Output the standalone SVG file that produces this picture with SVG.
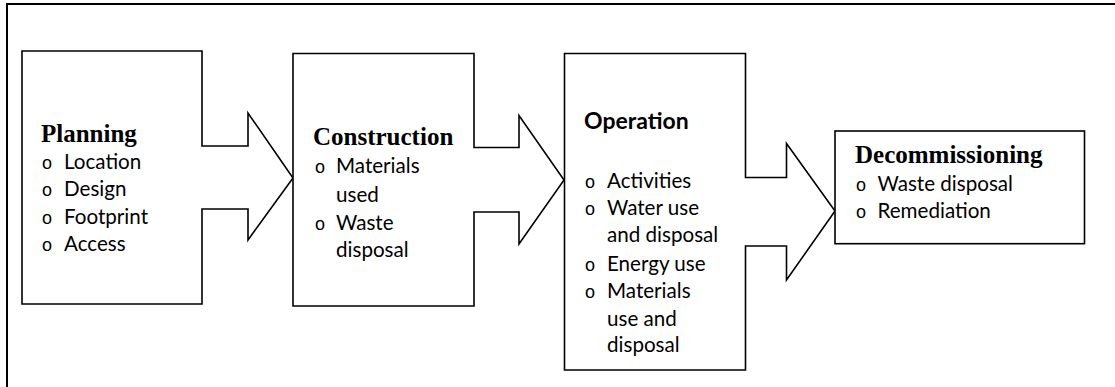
<svg xmlns="http://www.w3.org/2000/svg" width="1115" height="387" viewBox="0 0 1115 387">
<style>
.frame{fill:none;stroke:#000;stroke-width:2}
.shape{fill:#fff;stroke:#000;stroke-width:1.6;stroke-linejoin:miter}
.ttl{font-family:"Liberation Serif",serif;font-weight:bold;font-size:25px;fill:#000}
.ttls{font-family:Lato,"Liberation Sans",sans-serif;font-weight:bold;font-size:23px;fill:#000}
.txt{font-family:Lato,"Liberation Sans",sans-serif;font-size:20.6px;fill:#000}
.bul{font-family:"Liberation Sans",sans-serif;font-size:18px;fill:#000}
</style>
<rect class="frame" x="7" y="4" width="1130" height="420"/>
<g id="connectors"></g>
<g id="planning">
<polygon class="shape" points="22,51 202,51 202,146 248,146 248,113 293,178 248,240 248,209 202,209 202,304 22,304"/>
<text class="ttl" x="41" y="141.5">Planning</text>
<text class="bul" x="42" y="169">o</text><text class="txt" x="64" y="169.3">Location</text>
<text class="bul" x="42" y="196">o</text><text class="txt" x="64" y="196.3">Design</text>
<text class="bul" x="42" y="223.5">o</text><text class="txt" x="64" y="223.8">Footprint</text>
<text class="bul" x="42" y="250.5">o</text><text class="txt" x="64" y="250.8">Access</text>
</g>
<g id="construction">
<polygon class="shape" points="293,53.5 474,53.5 474,147.5 519,147.5 519,115.5 564,180 519,244 519,212 474,212 474,306 293,306"/>
<text class="ttl" x="313" y="145">Construction</text>
<text class="bul" x="315" y="173">o</text><text class="txt" x="336" y="173.3">Materials</text>
<text class="txt" x="336" y="201.5">used</text>
<text class="bul" x="315" y="230">o</text><text class="txt" x="336" y="230.2">Waste</text>
<text class="txt" x="336" y="256.7">disposal</text>
</g>
<g id="operation">
<polygon class="shape" points="564.5,53.5 745.5,53.5 745.5,177.5 786.5,177.5 786.5,143.5 835,211 786.5,280 786.5,246 745.5,246 745.5,370 564.5,370"/>
<text class="ttls" x="584" y="129.3">Operation</text>
<text class="bul" x="585" y="187.5">o</text><text class="txt" x="607" y="187.7">Activities</text>
<text class="bul" x="585" y="215">o</text><text class="txt" x="607" y="215">Water use</text>
<text class="txt" x="607" y="242.3">and disposal</text>
<text class="bul" x="585" y="270.5">o</text><text class="txt" x="607" y="270.7">Energy use</text>
<text class="bul" x="585" y="297.5">o</text><text class="txt" x="607" y="297.7">Materials</text>
<text class="txt" x="607" y="325.7">use and</text>
<text class="txt" x="607" y="352.3">disposal</text>
</g>
<g id="decommissioning">
<rect class="shape" x="835" y="131" width="249.5" height="112.7"/>
<text class="ttl" x="855" y="163.3">Decommissioning</text>
<text class="bul" x="856" y="191">o</text><text class="txt" x="877.5" y="191">Waste disposal</text>
<text class="bul" x="856" y="217.5">o</text><text class="txt" x="877.5" y="217.7">Remediation</text>
</g>
</svg>
